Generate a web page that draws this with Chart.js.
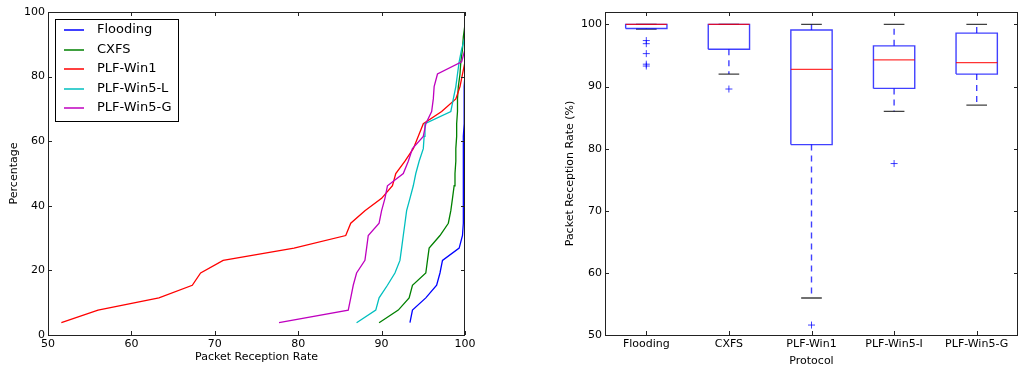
<!DOCTYPE html>
<html>
<head>
<meta charset="utf-8">
<script src="https://cdn.jsdelivr.net/npm/chart.js@4"></script>
<style>
  html, body { margin: 0; padding: 0; background: #fff; overflow: hidden; }
  #cdfChart { position: absolute; left: 0; top: 0; }
  #boxChart { position: absolute; left: 540px; top: 0; }
</style>
</head>
<body>
<canvas id="cdfChart" width="480" height="369"></canvas>
<canvas id="boxChart" width="483" height="369"></canvas>
<script>
  // ---- left: CDF of packet reception rate ----
  const percentLevels = [3.8, 7.7, 11.5, 15.4, 19.2, 23.1, 26.9, 30.8, 34.6, 38.5, 42.3, 46.2, 50.0,
                         53.8, 57.7, 61.5, 65.4, 69.2, 73.1, 76.9, 80.8, 84.6, 88.5, 92.3, 96.2, 100];
  const flooding = [93.4, 93.7, 95.3, 96.6, 97.0, 97.3, 99.3, 99.7, 99.8, 99.8, 99.8, 99.8, 99.8,
                    99.8, 99.8, 99.8, 99.9, 99.9, 99.9, 99.9, 100, 100, 100, 100, 100, 100];
  const cxfs = [89.7, 92.0, 93.3, 93.7, 95.3, 95.5, 95.7, 97.0, 98.0, 98.3, 98.5, 98.7, 98.8,
                98.9, 98.9, 99.0, 99.0, 99.1, 99.1, 99.2, 99.4, 99.5, 99.7, 99.8, 100, 100];
  const plfWin1 = [51.6, 56.0, 63.3, 67.3, 68.3, 71.0, 79.5, 85.7, 86.3, 88.0, 90.0, 91.3, 91.7,
                   92.8, 93.8, 94.4, 95.0, 97.2, 98.9, 99.4, 99.7, 100, 100, 100, 100, 100];
  const plfWin5L = [87.0, 89.3, 89.7, 90.7, 91.6, 92.2, 92.4, 92.6, 92.8, 93.0, 93.4, 93.8, 94.1,
                    94.5, 95.0, 95.1, 95.2, 98.3, 98.6, 98.9, 99.1, 99.3, 99.6, 100, 100, 100];
  const plfWin5G = [77.7, 86.0, 86.3, 86.6, 87.0, 88.0, 88.2, 88.4, 89.7, 90.0, 90.4, 90.7, 92.6,
                    93.2, 93.7, 95.0, 95.3, 96.0, 96.2, 96.3, 96.7, 99.6, 100, 100, 100, 100];
  const cdfNames = ['Flooding', 'CXFS', 'PLF-Win1', 'PLF-Win5-L', 'PLF-Win5-G'];
  const cdfColors = ['#0000ff', '#008000', '#ff0000', '#00bfbf', '#bf00bf'];

  // ---- right: box plot ----
  const protocols = ['Flooding', 'CXFS', 'PLF-Win1', 'PLF-Win5-I', 'PLF-Win5-G'];
  const boxQ1 = [99.35, 96.0, 80.65, 89.7, 92.0];
  const boxMedian = [100, 100, 92.75, 94.3, 93.85];
  const boxQ3 = [100, 100, 99.1, 96.55, 98.6];
  const whiskerLow = [99.25, 92.0, 55.95, 86.0, 87.0];
  const whiskerHigh = [100, 100, 100, 100, 100];
  const outliers = [[97.4, 96.9, 95.3, 93.6, 93.3], [89.6], [51.6], [77.6], []];
  const boxYTicks = [50, 60, 70, 80, 90, 100];

  Chart.defaults.font.family = '"DejaVu Sans", sans-serif';
  Chart.defaults.font.size = 11;
  Chart.defaults.color = '#000';

  // frame on all four sides with inward ticks (matplotlib classic look)
  const frameTicks = {
    id: 'frameTicks',
    afterDatasetsDraw(chart) {
      const { ctx, chartArea: a, scales } = chart;
      ctx.save();
      ctx.strokeStyle = '#222';
      ctx.lineWidth = 1;
      ctx.beginPath();
      scales.x.ticks.forEach(t => {
        const px = Math.round(scales.x.getPixelForValue(t.value)) + 0.5;
        ctx.moveTo(px, a.bottom); ctx.lineTo(px, a.bottom - 4);
        ctx.moveTo(px, a.top); ctx.lineTo(px, a.top + 4);
      });
      scales.y.ticks.forEach(t => {
        const py = Math.round(scales.y.getPixelForValue(t.value)) + 0.5;
        ctx.moveTo(a.left, py); ctx.lineTo(a.left + 4, py);
        ctx.moveTo(a.right, py); ctx.lineTo(a.right - 4, py);
      });
      ctx.stroke();
      ctx.strokeRect(a.left + 0.5, a.top + 0.5, a.right - a.left - 1, a.bottom - a.top);
      ctx.restore();
    }
  };

  // legend box in the upper left of the plot
  const boxLegend = {
    id: 'boxLegend',
    afterDraw(chart) {
      const { ctx, chartArea: a } = chart;
      const x0 = a.left + 7, y0 = a.top + 7, w = 123, h = 102, rowH = 19.6;
      ctx.save();
      ctx.fillStyle = '#fff';
      ctx.fillRect(x0, y0, w, h);
      ctx.strokeStyle = '#000';
      ctx.lineWidth = 1;
      ctx.strokeRect(x0 + 0.5, y0 + 0.5, w, h);
      ctx.font = '13px "DejaVu Sans", sans-serif';
      ctx.textBaseline = 'middle';
      ctx.fillStyle = '#000';
      ctx.lineWidth = 1.5;
      chart.data.datasets.forEach((ds, i) => {
        const y = Math.round(y0 + 11 + i * rowH);
        ctx.strokeStyle = cdfColors[i];
        ctx.beginPath();
        ctx.moveTo(x0 + 9, y); ctx.lineTo(x0 + 29, y);
        ctx.stroke();
        ctx.fillText(ds.label, x0 + 42, y);
      });
      ctx.restore();
    }
  };

  const cdfSeries = [flooding, cxfs, plfWin1, plfWin5L, plfWin5G];
  new Chart(document.getElementById('cdfChart'), {
    type: 'line',
    data: {
      datasets: cdfSeries.map((vals, i) => ({
        label: cdfNames[i],
        data: vals.map((v, k) => ({ x: v, y: percentLevels[k] })),
        borderColor: cdfColors[i],
        borderWidth: 1.3,
        pointRadius: 0,
        tension: 0,
        fill: false,
        order: cdfSeries.length - i
      }))
    },
    options: {
      responsive: false,
      animation: false,
      layout: { padding: { top: 12, right: 15, left: 0, bottom: 0 } },
      plugins: { legend: { display: false }, tooltip: { enabled: false } },
      scales: {
        x: {
          type: 'linear', min: 50, max: 100,
          ticks: { stepSize: 10, padding: 3 },
          grid: { display: false, drawTicks: false }, border: { display: false },
          title: { display: true, text: 'Packet Reception Rate', padding: { top: 0, bottom: 5 } },
          afterFit: s => { s.height = 34; }
        },
        y: {
          min: 0, max: 100,
          ticks: { stepSize: 20, padding: 3 },
          grid: { display: false, drawTicks: false }, border: { display: false },
          title: { display: true, text: 'Percentage', padding: { top: 8, bottom: 0 } },
          afterFit: s => { s.width = 48; }
        }
      }
    },
    plugins: [frameTicks, boxLegend]
  });

  // build box-plot pieces as line segments separated by gaps
  const gap = c => ({ x: c, y: null });
  const boxPts = [], medianPts = [], whiskerPts = [], capPts = [], outlierPts = [];
  protocols.forEach((name, i) => {
    const c = i + 1;
    boxPts.push({ x: c - 0.25, y: boxQ1[i] }, { x: c + 0.25, y: boxQ1[i] },
                { x: c + 0.25, y: boxQ3[i] }, { x: c - 0.25, y: boxQ3[i] },
                { x: c - 0.25, y: boxQ1[i] }, gap(c));
    medianPts.push({ x: c - 0.25, y: boxMedian[i] }, { x: c + 0.25, y: boxMedian[i] }, gap(c));
    whiskerPts.push({ x: c, y: boxQ1[i] }, { x: c, y: whiskerLow[i] }, gap(c),
                    { x: c, y: boxQ3[i] }, { x: c, y: whiskerHigh[i] }, gap(c));
    capPts.push({ x: c - 0.125, y: whiskerLow[i] }, { x: c + 0.125, y: whiskerLow[i] }, gap(c),
                { x: c - 0.125, y: whiskerHigh[i] }, { x: c + 0.125, y: whiskerHigh[i] }, gap(c));
    outliers[i].forEach(v => outlierPts.push({ x: c, y: v }));
  });

  const boxBlue = 'rgba(0,0,255,0.75)';
  new Chart(document.getElementById('boxChart'), {
    type: 'scatter',
    data: {
      datasets: [
        { data: medianPts, showLine: true, borderColor: 'rgba(255,0,0,0.8)', borderWidth: 1.2, pointRadius: 0, spanGaps: false },
        { data: boxPts, showLine: true, borderColor: boxBlue, borderWidth: 1.4, pointRadius: 0, spanGaps: false },
        { data: capPts, showLine: true, borderColor: 'rgba(0,0,0,0.75)', borderWidth: 1.4, pointRadius: 0, spanGaps: false },
        { data: whiskerPts, showLine: true, borderColor: boxBlue, borderWidth: 1.4, borderDash: [6, 5], pointRadius: 0, spanGaps: false },
        { data: outlierPts, showLine: false, pointStyle: 'cross', pointRadius: 3.5, borderColor: boxBlue, borderWidth: 1, backgroundColor: boxBlue }
      ]
    },
    options: {
      responsive: false,
      animation: false,
      layout: { padding: { top: 12, right: 0, left: 0, bottom: 0 } },
      plugins: { legend: { display: false }, tooltip: { enabled: false } },
      scales: {
        x: {
          type: 'linear', min: 0.5, max: 5.5,
          afterBuildTicks: s => { s.ticks = protocols.map((p, i) => ({ value: i + 1 })); },
          ticks: { callback: v => protocols[v - 1], autoSkip: false, maxRotation: 0, padding: 3 },
          grid: { display: false, drawTicks: false }, border: { display: false },
          title: { display: true, text: 'Protocol', padding: { top: 0, bottom: 1 } },
          afterFit: s => { s.height = 34; }
        },
        y: {
          min: 50, max: 102,
          afterBuildTicks: s => { s.ticks = boxYTicks.map(v => ({ value: v })); },
          ticks: { padding: 3 },
          grid: { display: false, drawTicks: false }, border: { display: false },
          title: { display: true, text: 'Packet Reception Rate (%)', padding: { top: 24, bottom: 0 } },
          afterFit: s => { s.width = 65; }
        }
      }
    },
    plugins: [frameTicks]
  });
</script>
</body>
</html>
